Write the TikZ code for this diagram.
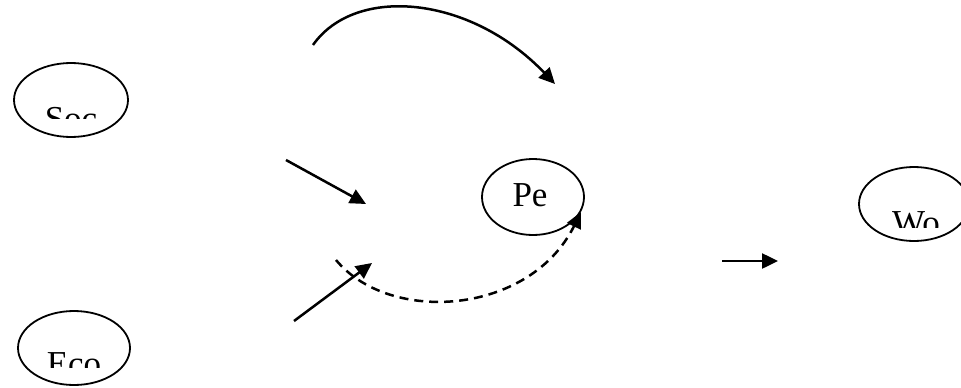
\documentclass[tikz,border=0pt]{standalone}
\usepackage{fontspec}
\setmainfont{Liberation Serif}
\usetikzlibrary{arrows.meta}
\begin{document}
\begin{tikzpicture}[x=1pt,y=-1pt,
  ell/.style={line width=1.8pt},
  conn/.style={line width=2.5pt,-{Triangle[length=16pt,width=15pt]}},
  lbl/.style={anchor=base,inner sep=0pt,font=\fontsize{35}{42}\selectfont}]
\useasboundingbox (0,0) rectangle (961,388);
% ellipses
\draw[ell] (71,100) ellipse[x radius=57,y radius=37];
\draw[ell] (74,348) ellipse[x radius=56,y radius=37];
\draw[ell] (533,197) ellipse[x radius=51,y radius=38];
\draw[ell] (914,204) ellipse[x radius=55,y radius=37];
% clipped labels
\begin{scope}
\clip (0,0) rectangle (961,118);
\node[lbl] (soc) at (71,130) {Soc};
\end{scope}
\begin{scope}
\clip (0,300) rectangle (961,367);
\node[lbl] (eco) at (74,375) {Eco};
\end{scope}
\begin{scope}
\clip (800,150) rectangle (961,227);
\node[lbl] (wo) at (916,234) {Wo};
\end{scope}
\node[lbl] (pe) at (530,206) {Pe};
% coordinates
\coordinate (a1) at (313,45);
\coordinate (a2) at (555,84);
\coordinate (b1) at (286,160);
\coordinate (b2) at (366,204);
\coordinate (c1) at (294,321);
\coordinate (c2) at (372,263);
\coordinate (d1) at (336,260);
\coordinate (d2) at (581,212);
\coordinate (e1) at (722,261);
\coordinate (e2) at (778,261);
% connectors
\draw[conn] (a1) .. controls (355,-15) and (470,-5) .. (a2);
\draw[conn] (b1) -- (b2);
\draw[conn] (c1) -- (c2);
\draw[conn,dash pattern=on 9pt off 6pt] (d1) .. controls (390,325) and (530,315) .. (d2);
\draw[conn] (e1) -- (e2);
\end{tikzpicture}
\end{document}
